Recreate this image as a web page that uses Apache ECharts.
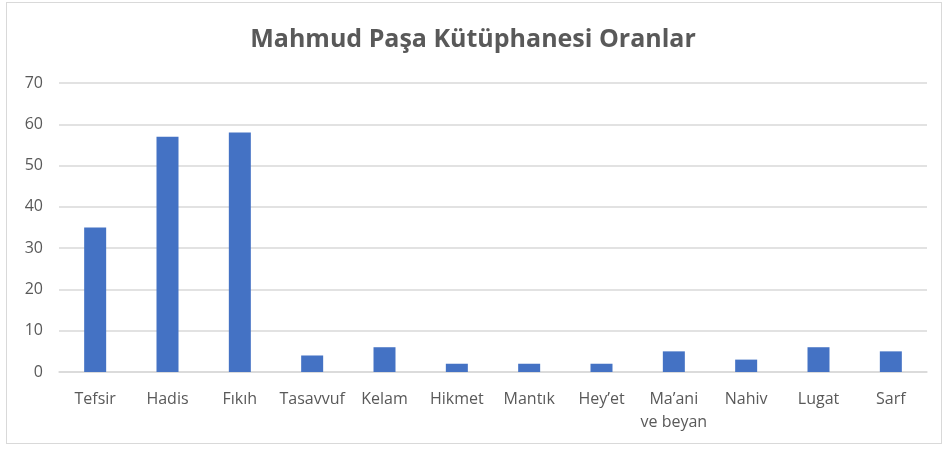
<!DOCTYPE html>
<html>
<head>
<meta charset="utf-8">
<script src="https://cdn.jsdelivr.net/npm/echarts@6/dist/echarts.min.js"></script>
<style>
  html, body { margin: 0; padding: 0; background: #fff; }
  .wrap { position: relative; width: 946px; height: 450px; }
  .frame { position: absolute; left: 6px; top: 2px; width: 936px; height: 442px; border: 1.5px solid #d9d9d9; box-sizing: border-box; }
  #chart { position: absolute; left: 0; top: 0; width: 946px; height: 450px; }
</style>
</head>
<body>
<div class="wrap">
  <div class="frame"></div>
  <div id="chart"></div>
</div>
<script>
// kategoriler ve değerler
const categories = ['Tefsir', 'Hadis', 'Fıkıh', 'Tasavvuf', 'Kelam', 'Hikmet', 'Mantık', 'Hey’et', 'Ma’ani\nve beyan', 'Nahiv', 'Lugat', 'Sarf']
const values = [35, 57, 58, 4, 6, 2, 2, 2, 5, 3, 6, 5]
const yTicks = [0, 10, 20, 30, 40, 50, 60, 70]

const myCharts = echarts.init(document.getElementById('chart'))
const option = {
  animation: false,
  title: {
    text: 'Mahmud Paşa Kütüphanesi Oranlar',
    left: 'center',
    top: 22,
    textStyle: {
      fontFamily: 'Open Sans',
      fontSize: 25,
      fontWeight: 'bold',
      color: '#595959'
    }
  },
  grid: {
    left: 59,
    right: 19,
    top: 83,
    bottom: 78
  },
  xAxis: {
    type: 'category',
    data: categories,
    axisLine: { lineStyle: { color: '#d9d9d9', width: 1.5 } },
    axisTick: { show: false },
    axisLabel: {
      color: '#595959',
      fontFamily: 'Open Sans',
      fontSize: 16,
      margin: 16,
      lineHeight: 23,
      interval: 0
    }
  },
  yAxis: {
    type: 'value',
    min: yTicks[0],
    max: yTicks[yTicks.length - 1],
    interval: 10,
    axisLine: { show: false },
    axisTick: { show: false },
    axisLabel: {
      color: '#595959',
      fontFamily: 'Open Sans',
      fontSize: 16,
      margin: 16
    },
    splitLine: { lineStyle: { color: '#d9d9d9', width: 1.5 } }
  },
  series: [
    {
      type: 'bar',
      data: values,
      barWidth: 22,
      itemStyle: { color: '#4472c4' }
    }
  ]
}
myCharts.setOption(option)
</script>
</body>
</html>
